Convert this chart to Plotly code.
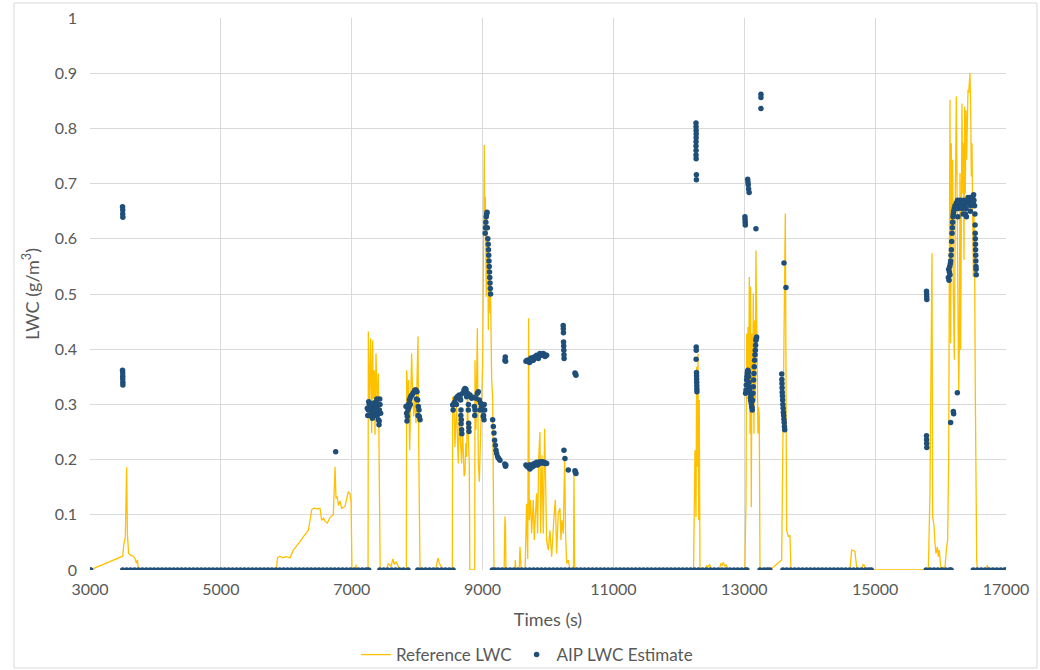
import plotly.graph_objects as go

# ---------------- Reference LWC (yellow line): (time s, LWC g/m3) ----------------
ref_pre_cloud = [(3000, 0), (3500, 0.025), (3515, 0.045), (3540, 0.06), (3560, 0.186), (3572, 0.065),
                 (3590, 0.03), (3620, 0.027), (3660, 0.025), (3690, 0.02), (3710, 0.012), (3725, 0.018),
                 (3740, 0), (4680, 0), (4690, 0.003), (4700, 0)]
ref_climb = [(5850, 0), (5865, 0.022), (5900, 0.025), (5950, 0.022), (6000, 0.024), (6057, 0.022),
             (6107, 0.036), (6158, 0.045), (6200, 0.05), (6260, 0.06), (6337, 0.072), (6370, 0.095),
             (6388, 0.109), (6420, 0.112), (6480, 0.111), (6515, 0.112), (6540, 0.09), (6570, 0.094),
             (6591, 0.088), (6627, 0.085), (6668, 0.095), (6719, 0.1), (6745, 0.187), (6760, 0.13),
             (6780, 0.133), (6795, 0.117), (6821, 0.125), (6846, 0.112), (6897, 0.115), (6948, 0.142),
             (6973, 0.138), (6990, 0.124), (7004, 0), (7060, 0), (7065, 0.01), (7072, 0), (7250, 0)]
ref_bursts_7000 = [(7254, 0.432), (7269, 0.29), (7290, 0.42), (7305, 0.248), (7320, 0.416), (7330, 0.31),
                   (7346, 0.362), (7356, 0.245), (7371, 0.392), (7381, 0.30), (7392, 0.29), (7407, 0.356),
                   (7417, 0.223), (7427, 0.012), (7435, 0), (7530, 0), (7560, 0.012), (7600, 0.006),
                   (7630, 0.02), (7650, 0.01), (7680, 0.015), (7720, 0.004), (7750, 0), (7835, 0),
                   (7840, 0.362), (7855, 0.314), (7870, 0.344), (7886, 0.217), (7901, 0.29), (7916, 0.392),
                   (7931, 0.32), (7947, 0.278), (7967, 0.308), (7982, 0.266), (7998, 0.344), (8013, 0.423),
                   (8023, 0.235), (8033, 0.048), (8044, 0), (8280, 0), (8300, 0.01), (8320, 0.022),
                   (8340, 0.012), (8360, 0.008), (8400, 0), (8538, 0)]
ref_burst_9000 = [(8543, 0.314), (8563, 0.296), (8578, 0.223), (8590, 0.27), (8604, 0.296), (8615, 0.24),
                  (8629, 0.193), (8642, 0.28), (8655, 0.254), (8668, 0.21), (8680, 0.193), (8693, 0.26),
                  (8706, 0.223), (8718, 0.17), (8731, 0.175), (8744, 0.23), (8757, 0.205), (8770, 0.32),
                  (8782, 0.241), (8797, 0.193), (8805, 0), (8880, 0), (8884, 0.38), (8899, 0.254),
                  (8920, 0.438), (8935, 0.193), (8950, 0.16), (8970, 0.254), (8991, 0.326), (9001, 0.374),
                  (9016, 0.586), (9026, 0.77), (9034, 0.62), (9042, 0.676), (9050, 0.58), (9057, 0.495),
                  (9064, 0.64), (9072, 0.543), (9080, 0.60), (9088, 0.435), (9096, 0.55), (9103, 0.513),
                  (9113, 0.465), (9120, 0.52), (9128, 0.404), (9139, 0.344), (9154, 0.314), (9164, 0.193),
                  (9174, 0)]
ref_drizzle = [(9330, 0), (9342, 0.097), (9350, 0.08), (9357, 0), (9495, 0), (9500, 0.018), (9510, 0),
               (9560, 0), (9572, 0.042), (9590, 0), (9650, 0), (9673, 0.12), (9690, 0.02), (9704, 0.456),
               (9714, 0.09), (9735, 0.127), (9750, 0.066), (9775, 0.127), (9790, 0.054), (9806, 0.096),
               (9826, 0.139), (9841, 0.066), (9857, 0.2), (9877, 0.25), (9887, 0.066), (9908, 0.208),
               (9928, 0.066), (9949, 0.256), (9964, 0.096), (9979, 0.054), (10005, 0.036), (10030, 0.072),
               (10056, 0.024), (10071, 0.066), (10091, 0.096), (10112, 0.127), (10132, 0.03), (10157, 0.103),
               (10183, 0.112), (10198, 0.054), (10213, 0.09), (10234, 0.066), (10254, 0.2), (10269, 0.066),
               (10285, 0.012), (10310, 0.018), (10336, 0), (10390, 0), (10397, 0.175), (10407, 0.006),
               (10420, 0)]
ref_12000 = [(12225, 0), (12236, 0.114), (12246, 0.217), (12262, 0.096), (12272, 0.368), (12282, 0.187),
             (12292, 0.392), (12302, 0.09), (12312, 0.308), (12323, 0), (12400, 0), (12420, 0.008),
             (12440, 0.005), (12470, 0.01), (12500, 0), (12620, 0), (12640, 0.012), (12660, 0.008),
             (12680, 0.014), (12700, 0.006), (12720, 0.01), (12760, 0)]
ref_13000 = [(13010, 0), (13015, 0.05), (13026, 0.126), (13036, 0.428), (13046, 0.32), (13056, 0.44),
             (13066, 0.308), (13077, 0.531), (13087, 0.247), (13097, 0.513), (13107, 0.114), (13117, 0.428),
             (13128, 0.338), (13138, 0.501), (13148, 0.247), (13158, 0.452), (13168, 0.308), (13178, 0.579),
             (13189, 0.428), (13199, 0.38), (13209, 0.247), (13219, 0.295), (13229, 0.277), (13240, 0),
             (13392, 0), (13571, 0.018), (13586, 0.187), (13606, 0.428), (13627, 0.646), (13637, 0.368),
             (13647, 0.072), (13673, 0.06), (13698, 0.063), (13713, 0), (14615, 0), (14640, 0.036),
             (14690, 0.034), (14723, 0), (14800, 0), (14815, 0.01), (14840, 0.008), (14850, 0)]
ref_16000 = [(15813, 0), (15838, 0.139), (15854, 0.338), (15869, 0.574), (15879, 0.097), (15900, 0.079),
             (15915, 0.048), (15930, 0.03), (15951, 0.042), (15966, 0.024), (15981, 0.036), (16001, 0.006),
             (16017, 0.003), (16068, 0.006), (16093, 0.042), (16108, 0.054), (16124, 0.2), (16134, 0.562),
             (16144, 0.852), (16154, 0.411), (16164, 0.773), (16175, 0.622), (16185, 0.743), (16195, 0.501),
             (16210, 0.381), (16226, 0.682), (16241, 0.858), (16256, 0.622), (16266, 0.35), (16277, 0.32),
             (16287, 0.411), (16297, 0.719), (16307, 0.399), (16317, 0.743), (16327, 0.845), (16338, 0.682),
             (16348, 0.773), (16358, 0.562), (16368, 0.839), (16378, 0.682), (16389, 0.833), (16399, 0.743),
             (16409, 0.852), (16419, 0.87), (16429, 0.864), (16440, 0.894), (16450, 0.9), (16460, 0.833),
             (16470, 0.713), (16480, 0.773), (16490, 0.622), (16501, 0.531), (16511, 0.646), (16521, 0.544),
             (16531, 0.32), (16541, 0.091), (16552, 0.018), (16562, 0), (16700, 0), (16715, 0.009),
             (16730, 0), (17000, 0)]

# ---------------- AIP LWC estimate (blue dots) ----------------
# times at which the estimate is zero
aip_zero_time = [3000, 3010,
    3500, 3560, 3620, 3680, 3740, 3800, 3860, 3920, 3980, 4040, 4100, 4160, 4220, 4280, 4340, 4400,
    4460, 4520, 4580, 4640, 4700, 4760, 4820, 4880, 4940, 5000, 5060, 5120, 5180, 5240, 5300, 5360,
    5420, 5480, 5540, 5600, 5660, 5720, 5780, 5840, 5900, 5960, 6020, 6080, 6140, 6200, 6260, 6320,
    6380, 6440, 6500, 6560, 6620, 6680, 6740, 6800, 6860, 6920, 6980, 7040, 7100, 7160, 7220, 7260,
    7430, 7490, 7550, 7610, 7670, 7730, 7790, 7860,
    8010, 8070, 8130, 8190, 8250, 8310, 8370, 8430, 8490, 8550,
    9150, 9190,
    9240, 9300, 9360, 9420, 9480, 9540, 9600, 9660, 9720, 9780, 9840, 9900, 9960, 10020, 10080, 10140,
    10200, 10260, 10320, 10380, 10440, 10500, 10560, 10620, 10680, 10740, 10800, 10860, 10920, 10980,
    11040, 11100, 11160, 11220, 11280, 11340, 11400, 11460, 11520, 11580, 11640, 11700, 11760, 11820,
    11880, 11940, 12000, 12060, 12120, 12180, 12240, 12300, 12360, 12420, 12480, 12540, 12600, 12660,
    12720, 12780, 12840, 12900, 12960, 13020, 13040,
    13240, 13300, 13350, 13390,
    13590, 13650, 13710, 13770, 13830, 13890, 13950, 14010, 14070, 14130, 14190, 14250, 14310, 14370,
    14430, 14490, 14550, 14610, 14670, 14730, 14790, 14850, 14900, 14940,
    15780, 15840, 15900, 15960, 16020, 16080, 16140, 16160,
    16500, 16560, 16620, 16680, 16740, 16800, 16860, 16920, 16980, 17000]

aip_early = [(3497, 0.658), (3500, 0.652), (3500, 0.645), (3502, 0.639), (3497, 0.362), (3500, 0.357),
             (3500, 0.351), (3500, 0.346), (3502, 0.340), (3502, 0.335), (6755, 0.214)]
aip_7000 = [(7239, 0.293), (7245, 0.28), (7254, 0.29), (7260, 0.305), (7269, 0.3), (7279, 0.296),
            (7285, 0.28), (7290, 0.293), (7300, 0.30), (7305, 0.287), (7315, 0.275), (7320, 0.296),
            (7330, 0.302), (7340, 0.295), (7346, 0.284), (7356, 0.29), (7365, 0.28), (7371, 0.305),
            (7381, 0.296), (7385, 0.31), (7392, 0.281), (7400, 0.29), (7407, 0.272), (7412, 0.285),
            (7417, 0.263), (7420, 0.27), (7422, 0.29), (7428, 0.31), (7432, 0.3), (7442, 0.284),
            (7830, 0.296), (7840, 0.284), (7845, 0.27), (7850, 0.278), (7860, 0.29), (7865, 0.3),
            (7875, 0.295), (7881, 0.308), (7891, 0.311), (7895, 0.30), (7906, 0.315), (7921, 0.317),
            (7937, 0.32), (7952, 0.323), (7967, 0.326), (7982, 0.326), (7990, 0.31), (7998, 0.323),
            (8008, 0.308), (8015, 0.28), (8018, 0.296), (8028, 0.29), (8033, 0.278), (8044, 0.272)]
aip_8500 = [(8543, 0.299), (8550, 0.29), (8563, 0.302), (8578, 0.305), (8594, 0.311), (8600, 0.30),
            (8614, 0.314), (8629, 0.315), (8645, 0.317), (8655, 0.314), (8665, 0.308), (8668, 0.28),
            (8670, 0.29), (8672, 0.265), (8675, 0.272), (8680, 0.254), (8683, 0.247), (8696, 0.32),
            (8716, 0.326), (8731, 0.329), (8747, 0.327), (8757, 0.314), (8772, 0.32), (8782, 0.29),
            (8784, 0.30), (8787, 0.266), (8790, 0.258), (8792, 0.251), (8808, 0.317), (8833, 0.311),
            (8859, 0.313), (8874, 0.296), (8880, 0.28), (8884, 0.29), (8899, 0.311), (8920, 0.32),
            (8935, 0.323), (8950, 0.308), (8960, 0.29), (8971, 0.302), (8986, 0.296), (9001, 0.29),
            (9011, 0.278), (9015, 0.28), (9022, 0.272), (9025, 0.3), (9032, 0.29)]
aip_9000 = [(9040, 0.61), (9044, 0.62), (9050, 0.63), (9056, 0.64), (9062, 0.645), (9068, 0.648),
            (9072, 0.62), (9080, 0.60), (9086, 0.59), (9090, 0.58), (9094, 0.57), (9098, 0.56),
            (9102, 0.55), (9106, 0.54), (9110, 0.53), (9114, 0.52), (9118, 0.51), (9122, 0.50),
            (9154, 0.272), (9164, 0.26), (9174, 0.248), (9184, 0.235), (9195, 0.226), (9205, 0.217),
            (9215, 0.211), (9230, 0.205), (9246, 0.202), (9266, 0.199),
            (9342, 0.38), (9347, 0.386), (9352, 0.378), (9340, 0.192), (9350, 0.188), (9355, 0.19)]
aip_9800 = [(9663, 0.378), (9680, 0.38), (9699, 0.38), (9715, 0.376), (9724, 0.377), (9740, 0.384),
            (9750, 0.383), (9765, 0.38), (9775, 0.38), (9790, 0.386), (9801, 0.386), (9815, 0.385),
            (9826, 0.389), (9840, 0.385), (9852, 0.383), (9865, 0.388), (9877, 0.392), (9890, 0.39),
            (9903, 0.389), (9915, 0.391), (9928, 0.392), (9940, 0.39), (9954, 0.387), (9965, 0.389),
            (9979, 0.389),
            (9663, 0.19), (9680, 0.188), (9699, 0.186), (9715, 0.19), (9724, 0.183), (9740, 0.19),
            (9750, 0.186), (9765, 0.19), (9775, 0.188), (9790, 0.193), (9801, 0.19), (9815, 0.192),
            (9826, 0.195), (9840, 0.19), (9852, 0.194), (9865, 0.193), (9877, 0.196), (9890, 0.194),
            (9903, 0.195), (9915, 0.196), (9928, 0.194), (9940, 0.195), (9954, 0.193), (9965, 0.194),
            (9979, 0.193),
            (10232, 0.443), (10234, 0.437), (10236, 0.43), (10238, 0.413), (10240, 0.406), (10242, 0.398),
            (10244, 0.39), (10246, 0.383), (10244, 0.217), (10259, 0.202), (10310, 0.181),
            (10412, 0.357), (10420, 0.355), (10427, 0.353), (10412, 0.18), (10420, 0.177), (10427, 0.175)]
aip_12000 = [(12262, 0.81), (12263, 0.803), (12264, 0.796), (12265, 0.79), (12264, 0.783), (12263, 0.776),
             (12262, 0.768), (12263, 0.76), (12262, 0.752), (12264, 0.745), (12268, 0.716), (12268, 0.707),
             (12265, 0.404), (12266, 0.398), (12264, 0.382), (12270, 0.358), (12271, 0.352), (12272, 0.346),
             (12273, 0.34), (12274, 0.334), (12275, 0.328), (12276, 0.323)]
aip_13000 = [(13010, 0.64), (13012, 0.635), (13014, 0.63), (13016, 0.625),
             (13052, 0.708), (13056, 0.703), (13060, 0.698), (13066, 0.69), (13074, 0.684),
             (13178, 0.618), (13255, 0.862), (13255, 0.856), (13255, 0.836),
             (13020, 0.32), (13026, 0.326), (13030, 0.335), (13036, 0.344), (13040, 0.35), (13046, 0.356),
             (13051, 0.36), (13056, 0.362), (13061, 0.358), (13066, 0.35), (13072, 0.34), (13077, 0.332),
             (13082, 0.326), (13087, 0.32), (13092, 0.312), (13097, 0.307), (13102, 0.313), (13107, 0.302),
             (13112, 0.296), (13117, 0.295), (13122, 0.29), (13128, 0.307), (13133, 0.32), (13138, 0.332),
             (13143, 0.344), (13148, 0.356), (13153, 0.368), (13158, 0.38), (13163, 0.39), (13168, 0.398),
             (13173, 0.407), (13178, 0.416), (13184, 0.42), (13189, 0.422)]
aip_13600 = [(13572, 0.355), (13574, 0.345), (13576, 0.338), (13578, 0.33), (13580, 0.322), (13583, 0.315),
             (13586, 0.308), (13590, 0.30), (13594, 0.293), (13598, 0.286), (13602, 0.28), (13606, 0.273),
             (13610, 0.267), (13614, 0.26), (13618, 0.254), (13607, 0.556), (13637, 0.512)]
aip_16000 = [(15785, 0.505), (15787, 0.50), (15788, 0.495), (15790, 0.49),
             (15785, 0.243), (15786, 0.236), (15788, 0.229), (15790, 0.222),
             (16154, 0.267), (16195, 0.287), (16200, 0.283), (16256, 0.321),
             (16119, 0.53), (16124, 0.545), (16129, 0.525), (16134, 0.54), (16139, 0.55), (16144, 0.535),
             (16149, 0.555), (16154, 0.56), (16160, 0.57), (16165, 0.58), (16170, 0.595), (16175, 0.61),
             (16180, 0.62), (16185, 0.63), (16190, 0.64), (16195, 0.645), (16200, 0.65), (16210, 0.655),
             (16220, 0.66), (16230, 0.655), (16240, 0.665), (16250, 0.66), (16260, 0.67), (16265, 0.64),
             (16270, 0.655), (16280, 0.665), (16290, 0.66), (16300, 0.67), (16310, 0.66), (16320, 0.665),
             (16330, 0.655), (16340, 0.66), (16345, 0.645), (16350, 0.67), (16360, 0.665), (16370, 0.66),
             (16380, 0.645), (16390, 0.655), (16395, 0.64), (16400, 0.665), (16410, 0.67), (16420, 0.675),
             (16430, 0.665), (16440, 0.67), (16450, 0.675), (16455, 0.65), (16460, 0.66), (16470, 0.665),
             (16480, 0.67), (16490, 0.675), (16500, 0.665), (16505, 0.68), (16510, 0.67), (16520, 0.66),
             (16525, 0.645), (16527, 0.625), (16529, 0.61), (16531, 0.60), (16533, 0.59), (16535, 0.58),
             (16537, 0.57), (16539, 0.56), (16541, 0.55), (16543, 0.545), (16545, 0.535)]

x_ticks = [3000, 5000, 7000, 9000, 11000, 13000, 15000, 17000]
x_tick_labels = ["3000", "5000", "7000", "9000", "11000", "13000", "15000", "17000"]
y_ticks = [0, 0.1, 0.2, 0.3, 0.4, 0.5, 0.6, 0.7, 0.8, 0.9, 1]
y_tick_labels = ["0", "0.1", "0.2", "0.3", "0.4", "0.5", "0.6", "0.7", "0.8", "0.9", "1"]

# ---------------- assemble ----------------
ref_points = (ref_pre_cloud + ref_climb + ref_bursts_7000 + ref_burst_9000 + ref_drizzle
              + ref_12000 + ref_13000 + ref_16000)
ref_time = [p[0] for p in ref_points]
ref_lwc = [p[1] for p in ref_points]

aip_points = aip_early + aip_7000 + aip_8500 + aip_9000 + aip_9800 + aip_12000 + aip_13000 + aip_13600 + aip_16000
aip_time = aip_zero_time + [p[0] for p in aip_points]
aip_lwc = [0.0 for _ in aip_zero_time] + [p[1] for p in aip_points]

FONT = "Lato, 'Open Sans', sans-serif"
GREY = "#595959"

fig = go.Figure()
fig.add_trace(go.Scatter(x=ref_time, y=ref_lwc, mode="lines", name="Reference LWC",
                         line=dict(color="#FFC000", width=1.3)))
fig.add_trace(go.Scatter(x=aip_time, y=aip_lwc, mode="markers", name="AIP LWC Estimate",
                         marker=dict(color="#1F4E79", size=5.5, line=dict(width=0))))

fig.update_layout(
    width=1040, height=670,
    margin=dict(l=90, r=34, t=18, b=100, autoexpand=False),
    plot_bgcolor="white", paper_bgcolor="white",
    font=dict(family=FONT, size=16, color=GREY),
    showlegend=True,
    legend=dict(orientation="h", x=0.477, xanchor="center", y=-0.154, yanchor="middle",
                font=dict(size=17, color=GREY), bgcolor="rgba(0,0,0,0)", itemwidth=30),
    xaxis=dict(range=[3000, 17000], tickvals=x_ticks, ticktext=x_tick_labels, showgrid=True,
               gridcolor="#D9D9D9", gridwidth=1,
               zeroline=False, showline=False, ticks="", ticklabelstandoff=8,
               tickfont=dict(size=16, color=GREY),
               title=dict(text="Times (s)", font=dict(size=18, color=GREY), standoff=16)),
    yaxis=dict(range=[0, 1], tickvals=y_ticks, ticktext=y_tick_labels, showgrid=True,
               gridcolor="#D9D9D9", gridwidth=1, zeroline=False, showline=False, ticks="",
               ticklabelstandoff=12, tickfont=dict(size=16, color=GREY),
               title=dict(text="LWC (g/m<sup>3</sup>)", font=dict(size=18, color=GREY), standoff=10)),
    shapes=[dict(type="rect", xref="paper", yref="paper", x0=-0.083, x1=1.0338, y0=-0.1775, y1=1.0272,
                 line=dict(color="#D9D9D9", width=1), fillcolor="rgba(0,0,0,0)", layer="below")],
)

fig.write_html("out.html", config={"displayModeBar": False},
               post_script="document.body.style.margin='0';document.body.style.overflow='hidden';")
